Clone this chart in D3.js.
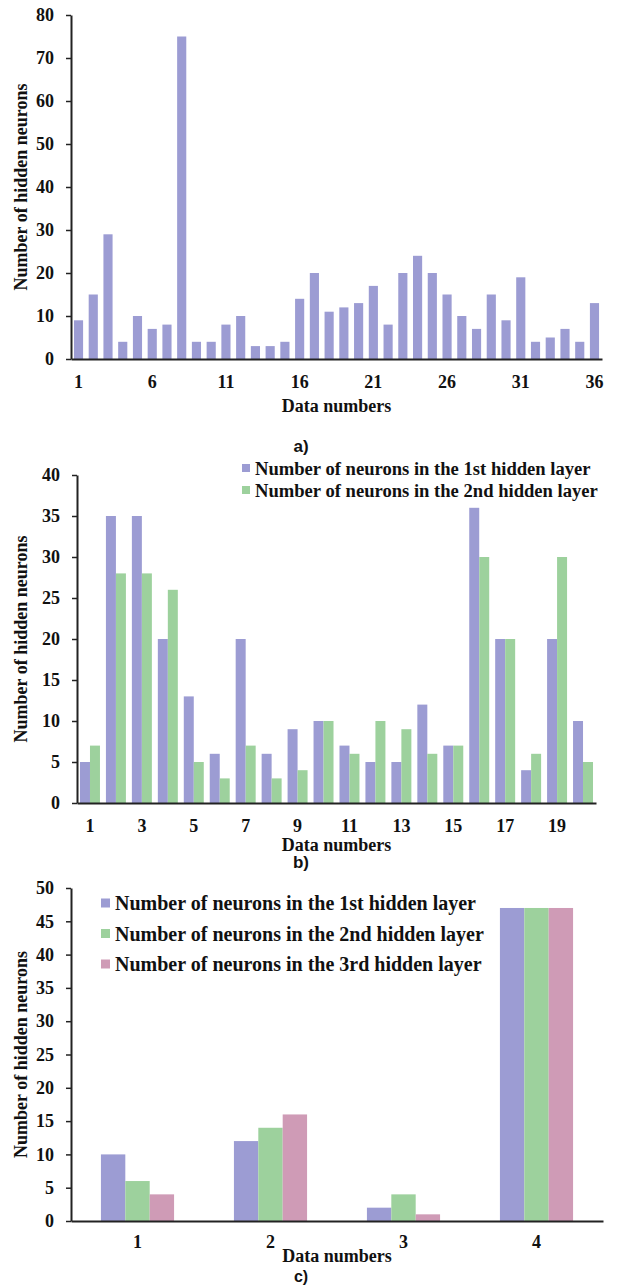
<!DOCTYPE html>
<html>
<head>
<meta charset="utf-8">
<script src="https://cdn.jsdelivr.net/npm/d3@7.9.0/dist/d3.min.js"></script>
<style>
  body { margin: 0; background: #fff; }
  svg text { font-family: "Liberation Serif", "Times New Roman", serif; font-weight: 700; fill: #111; }
  svg text.tag { font-family: "Liberation Sans", Arial, sans-serif; }
</style>
</head>
<body>
<svg id="fig" width="618" height="1286"></svg>
<script>
// panel a
const catsA = [1, 2, 3, 4, 5, 6, 7, 8, 9, 10, 11, 12, 13, 14, 15, 16, 17, 18,
  19, 20, 21, 22, 23, 24, 25, 26, 27, 28, 29, 30, 31, 32, 33, 34, 35, 36];
const neuronsA = [9, 15, 29, 4, 10, 7, 8, 75, 4, 4, 8, 10, 3, 3, 4, 14, 20, 11,
  12, 13, 17, 8, 20, 24, 20, 15, 10, 7, 15, 9, 19, 4, 5, 7, 4, 13];
const xTicksA = [1, 6, 11, 16, 21, 26, 31, 36];
const yTicksA = [0, 10, 20, 30, 40, 50, 60, 70, 80];

// panel b
const catsB = [1, 2, 3, 4, 5, 6, 7, 8, 9, 10, 11, 12, 13, 14, 15, 16, 17, 18, 19, 20];
const layer1B = [5, 35, 35, 20, 13, 6, 20, 6, 9, 10, 7, 5, 5, 12, 7, 36, 20, 4, 20, 10];
const layer2B = [7, 28, 28, 26, 5, 3, 7, 3, 4, 10, 6, 10, 9, 6, 7, 30, 20, 6, 30, 5];
const xTicksB = [1, 3, 5, 7, 9, 11, 13, 15, 17, 19];
const yTicksB = [0, 5, 10, 15, 20, 25, 30, 35, 40];

// panel c
const catsC = [1, 2, 3, 4];
const layer1C = [10, 12, 2, 47];
const layer2C = [6, 14, 4, 47];
const layer3C = [4, 16, 1, 47];
const xTicksC = [1, 2, 3, 4];
const yTicksC = [0, 5, 10, 15, 20, 25, 30, 35, 40, 45, 50];

const layerNames = [
  'Number of neurons in the 1st hidden layer',
  'Number of neurons in the 2nd hidden layer',
  'Number of neurons in the 3rd hidden layer'
];
const colors = ['#9c9cd3', '#9dd19d', '#cf9bb6'];

const svg = d3.select('#fig');

function drawPanel(p) {
  const g = svg.append('g');
  const x0 = d3.scaleBand().domain(p.cats).range([p.left, p.right])
    .paddingInner(p.padIn).paddingOuter(p.padOut);
  const x1 = d3.scaleBand().domain(d3.range(p.series.length)).range([0, x0.bandwidth()]);
  const y = d3.scaleLinear().domain([0, d3.max(p.yTicks)]).range([p.bottom, p.top]);

  p.series.forEach((vals, si) => {
    g.append('g').selectAll('rect')
      .data(vals)
      .join('rect')
      .attr('x', (d, i) => x0(p.cats[i]) + x1(si))
      .attr('y', d => y(d))
      .attr('width', x1.bandwidth())
      .attr('height', d => y(0) - y(d))
      .attr('fill', colors[si]);
  });

  const yAxis = g.append('g')
    .attr('transform', `translate(${p.left},0)`)
    .call(d3.axisLeft(y).tickValues(p.yTicks).tickSize(5).tickSizeOuter(0).tickPadding(12));
  yAxis.select('.domain').attr('stroke', '#222').attr('stroke-width', 2);
  yAxis.selectAll('.tick line').attr('stroke', '#222').attr('stroke-width', 1.5);
  yAxis.selectAll('.tick text').style('font-size', '18px');

  const xAxis = g.append('g')
    .attr('transform', `translate(0,${p.bottom})`)
    .call(d3.axisBottom(x0).tickValues(p.xTicks).tickSize(0).tickSizeOuter(0).tickPadding(p.xPad));
  xAxis.select('.domain').attr('stroke', '#222').attr('stroke-width', 2);
  xAxis.selectAll('.tick text').style('font-size', '18px');

  g.append('text')
    .attr('transform', `translate(27,${(p.top + p.bottom) / 2}) rotate(-90)`)
    .attr('text-anchor', 'middle')
    .style('font-size', '18px')
    .text('Number of hidden neurons');

  g.append('text')
    .attr('x', (p.left + p.right) / 2)
    .attr('y', p.xTitleY)
    .attr('text-anchor', 'middle')
    .style('font-size', '18px')
    .text('Data numbers');

  g.append('text')
    .attr('class', 'tag')
    .attr('x', 301)
    .attr('y', p.tagY)
    .attr('text-anchor', 'middle')
    .style('font-size', p.tagSize + 'px')
    .text(p.tag);

  if (p.legend) {
    const L = p.legend;
    p.series.forEach((_, si) => {
      const cy = L.y + si * L.gap;
      g.append('rect')
        .attr('x', L.x).attr('y', cy - L.box / 2)
        .attr('width', L.box).attr('height', L.box)
        .attr('fill', colors[si]);
      g.append('text')
        .attr('x', L.x + L.box + 5)
        .attr('y', cy)
        .attr('dy', '0.35em')
        .style('font-size', L.font + 'px')
        .text(layerNames[si]);
    });
  }
}

drawPanel({
  cats: catsA, series: [neuronsA], yTicks: yTicksA, xTicks: xTicksA,
  left: 71, right: 602, top: 15, bottom: 359, padIn: 0.38, padOut: 0.2,
  xPad: 16, xTitleY: 412, tag: 'a)', tagY: 452, tagSize: 17
});

drawPanel({
  cats: catsB, series: [layer1B, layer2B], yTicks: yTicksB, xTicks: xTicksB,
  left: 77, right: 596, top: 475, bottom: 803, padIn: 0.23, padOut: 0.115,
  xPad: 16, xTitleY: 851, tag: 'b)', tagY: 868, tagSize: 17,
  legend: { x: 242, y: 468, gap: 22, box: 8, font: 18.6 }
});

drawPanel({
  cats: catsC, series: [layer1C, layer2C, layer3C], yTicks: yTicksC, xTicks: xTicksC,
  left: 71, right: 603, top: 888, bottom: 1221, padIn: 0.45, padOut: 0.225,
  xPad: 14, xTitleY: 1262, tag: 'c)', tagY: 1282, tagSize: 16,
  legend: { x: 101, y: 903, gap: 30.5, box: 9, font: 20 }
});
</script>
</body>
</html>
